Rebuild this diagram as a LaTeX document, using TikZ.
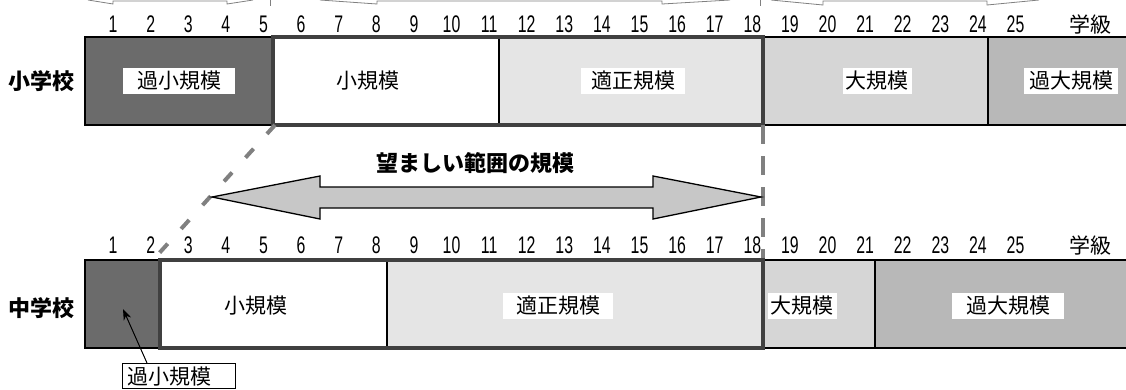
\documentclass[tikz,border=0pt]{standalone}
\usepackage{fontspec}
\usepackage{graphicx}
\newfontfamily\jp{Noto Sans CJK JP}
\newfontfamily\kazu{Liberation Sans}
\newcommand\narrownum[1]{\scalebox{0.66}[1]{#1}}
\usetikzlibrary{arrows.meta}
\definecolor{kasho}{gray}{0.42}
\definecolor{tekisei}{gray}{0.9}
\definecolor{dai}{gray}{0.84}
\definecolor{kadai}{gray}{0.72}
\definecolor{hani}{gray}{0.78}
\definecolor{wakuiro}{gray}{0.25}
\tikzset{seg/.style={draw=black, line width=1.2pt},
  wakusen/.style={draw=wakuiro, line width=3.5pt},
  guide/.style={draw=gray, line width=4pt, dash pattern=on 19pt off 12pt},
  rim/.style={draw=gray, line width=0.8pt},
  kls/.style={font=\kazu\fontsize{24pt}{24pt}\selectfont, inner sep=0pt},
  unit/.style={font=\jp\fontsize{21pt}{21pt}\selectfont, inner sep=0pt},
  lbl/.style={fill=white, inner xsep=10pt, inner ysep=3pt, font=\jp\fontsize{21pt}{21pt}\selectfont},
  school/.style={font=\jp\bfseries\fontsize{22pt}{22pt}\selectfont},
  pointer/.style={-{Stealth[length=11pt,width=8pt]}, line width=1pt}}

\begin{document}
\begin{tikzpicture}[x=1pt, y=-1pt]
      \useasboundingbox (0,0) rectangle (1126,389);
      \draw[rim] (88,0) -- (113,4) -- (113,1) -- (227,1) -- (227,4) -- (253,0);
      \draw[rim] (320,0) -- (377,4) -- (377,1) -- (662,1) -- (662,4) -- (730,0);
      \draw[rim] (771,0) -- (823,5) -- (823,1) -- (987,1) -- (987,5) -- (1039,0);
      \draw[rim] (270,0) -- (270,6) (760,0) -- (760,6);

      % 小学校
      \foreach \a/\b/\c in {85/273/kasho, 273/499/white, 499/763/tekisei, 763/988/dai, 988/1130/kadai}
        \draw[seg, fill=\c] (\a,37) rectangle (\b,125);
      \draw[wakusen] (273,37) rectangle (763,125);
      \foreach \n in {1,...,25}
        \node[kls] at (75.5+37.6*\n, 24) {\narrownum{\n}};
      \node[unit] (gakkyu1) at (1090,24) {学級};
      \node[school] (sho) at (42,81) {小学校};
      \node[lbl, inner xsep=14pt] (sho1) at (179,81) {過小規模};
      \node[lbl, fill=none] (sho2) at (368,81) {小規模};
      \node[lbl] (sho3) at (633,81) {適正規模};
      \node[lbl, inner xsep=3pt] (sho4) at (877,81) {大規模};
      \node[lbl, inner xsep=5pt] (sho5) at (1071,81) {過大規模};

      \draw[guide, dash pattern=on 12pt off 20pt] (275,125) -- (153,260);
      \draw[guide] (763,125) -- (763,260);
      \draw[fill=hani, line width=1.3pt] (212,197) -- (320,176) -- (320,187) -- (653,187) -- (653,176) -- (761,197) -- (653,219) -- (653,208) -- (320,208) -- (320,219) -- cycle;
      \node[school] (nozomashii) at (475,163) {望ましい範囲の規模};

      % 中学校
      \foreach \a/\b/\c in {85/160/kasho, 160/387/white, 387/763/tekisei, 763/875/dai, 875/1130/kadai}
        \draw[seg, fill=\c] (\a,260) rectangle (\b,348);
      \draw[wakusen] (160,260) rectangle (763,348);
      \foreach \n in {1,...,25}
        \node[kls] at (75.5+37.6*\n, 245) {\narrownum{\n}};
      \node[unit] (gakkyu2) at (1090,245) {学級};
      \node[school] (chu) at (42,308) {中学校};
      \node[lbl, fill=none] (chu2) at (256,306) {小規模};
      \node[lbl, inner xsep=13pt] (chu3) at (558,306) {適正規模};
      \node[lbl, inner xsep=3pt] (chu4) at (802,306) {大規模};
      \node[lbl, inner xsep=14pt] (chu5) at (1008,306) {過大規模};

      \node[lbl, draw=black, line width=0.8pt, anchor=north west, text width=103pt, align=left, inner xsep=5pt] (chu1) at (122,363) {過小規模};
      \coordinate (kashotip) at (123,309);
      \draw[pointer] ([xshift=25pt]chu1.north west) -- (kashotip);
\end{tikzpicture}
\end{document}
